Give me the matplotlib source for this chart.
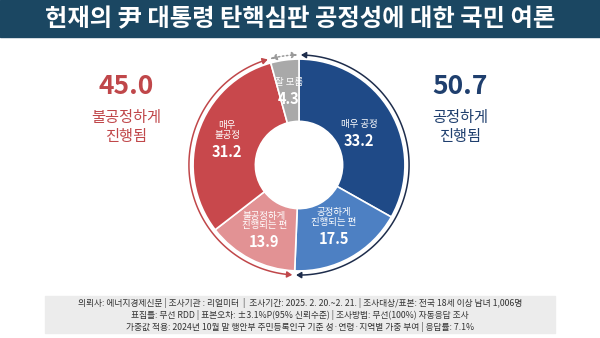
import numpy as np
import matplotlib
matplotlib.use("Agg")
import matplotlib.pyplot as plt
from matplotlib.patches import FancyArrowPatch, Rectangle
from matplotlib.path import Path

plt.rcParams['font.family'] = ['Noto Sans CJK KR', 'DejaVu Sans']

title = "헌재의 尹 대통령 탄핵심판 공정성에 대한 국민 여론"
labels = ["매우 공정", "공정하게\n진행되는 편", "불공정하게\n진행되는 편", "매우\n불공정", "잘 모름"]
values = [33.2, 17.5, 13.9, 31.2, 4.3]
colors = ["#1f4a87", "#4d80c3", "#e29294", "#c8484c", "#a9a9a9"]
fair_total = 50.7
unfair_total = 45.0
notes = [
    "의뢰사: 에너지경제신문 | 조사기관 : 리얼미터  |  조사기간: 2025. 2. 20.~2. 21. | 조사대상/표본: 전국 18세 이상 남녀 1,006명",
    "표집틀: 무선 RDD | 표본오차: ±3.1%P(95% 신뢰수준) | 조사방법: 무선(100%) 자동응답 조사",
    "가중값 적용: 2024년 10월 말 행안부 주민등록인구 기준 성·연령·지역별 가중 부여 | 응답률: 7.1%",
]

fig = plt.figure(figsize=(6, 3.38), dpi=100)
bg = fig.add_axes([0, 0, 1, 1])
bg.set_xlim(0, 600)
bg.set_ylim(338, 0)
bg.axis('off')

# title bar
bg.add_patch(Rectangle((0, 0), 600, 37, color="#1b4762"))
bg.text(300, 19, title, color="white", fontsize=17.5, fontweight='bold', ha='center', va='center')

# side totals
bg.text(126, 87, f"{unfair_total:.1f}", color="#c0474a", fontsize=19, fontweight='bold', ha='center', va='center')
bg.text(126, 127, "불공정하게\n진행됨", color="#c0474a", fontsize=11, ha='center', va='center', linespacing=1.2)
bg.text(460, 87, f"{fair_total:.1f}", color="#1f3f6e", fontsize=19, fontweight='bold', ha='center', va='center')
bg.text(460, 127, "공정하게\n진행됨", color="#1f3f6e", fontsize=11, ha='center', va='center', linespacing=1.2)

# footer
bg.add_patch(Rectangle((45, 296), 510, 37, color="#ececec"))
for i, line in enumerate(notes):
    bg.text(300, 303 + i * 12, line, color="#333333", fontsize=6.3, ha='center', va='center')

# donut
ax = fig.add_axes([(299 - 135) / 600, (338 - 165 - 135) / 338, 270 / 600, 270 / 338])
wedges, _ = ax.pie(values, colors=colors, startangle=90, counterclock=False, radius=1.02,
                   wedgeprops=dict(width=0.6, edgecolor='white', linewidth=1.2), frame=True)
ax.set_xlim(-1.3, 1.3)
ax.set_ylim(-1.3, 1.3)
ax.axis('off')

radii = [0.67, 0.69, 0.72, 0.73, 0.75]
cum = 0
for lab, v, r in zip(labels, values, radii):
    mid = np.deg2rad(90 - (cum + v / 2) * 3.6)
    cum += v
    x, y = r * np.cos(mid), r * np.sin(mid)
    ax.text(x, y + 0.01, lab, color="white", fontsize=6.8, ha='center', va='bottom', linespacing=1.1)
    ax.text(x, y - 0.03, f"{v:.1f}", color="white", fontsize=10.5, fontweight='bold', ha='center', va='top')


def arc(a0, a1, r, color, style='-'):
    t = np.deg2rad(np.linspace(a0, a1, 120))
    verts = np.column_stack([r * np.cos(t), r * np.sin(t)])
    p = FancyArrowPatch(path=Path(verts), arrowstyle='<|-|>,head_length=3,head_width=1.8',
                        color=color, lw=1.1, linestyle=style, mutation_scale=1)
    ax.add_patch(p)


blue_end = 90 - fair_total * 3.6
gray_start = 90 + values[-1] * 3.6
arc(89, blue_end + 1, 1.06, "#1e2d4c")
arc(blue_end - 1, gray_start - 360 + 1, 1.06, "#c0474a")
arc(gray_start - 1, 91, 1.06, "#999999", style=':')

fig.savefig("out.png", dpi=100)
